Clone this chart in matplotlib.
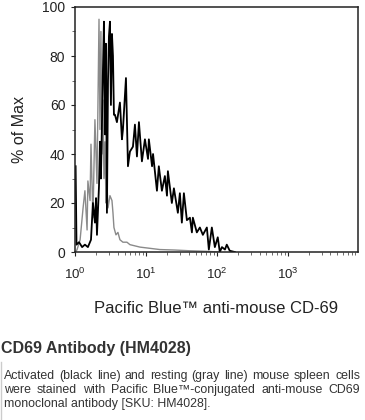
import matplotlib
matplotlib.use("Agg")

import numpy as np
import matplotlib.pyplot as plt
from matplotlib.ticker import LogLocator, MultipleLocator

plt.rcParams["font.family"] = ["Liberation Sans", "DejaVu Sans"]
plt.rcParams["mathtext.fontset"] = "custom"
plt.rcParams["mathtext.rm"] = "Liberation Sans"
plt.rcParams["mathtext.it"] = "Liberation Sans:italic"

# activated cells (black line): fluorescence intensity, % of max
activated_x = [1.02, 1.05, 1.14, 1.26, 1.38, 1.52, 1.68, 1.79, 1.91, 1.98, 2.04, 2.18, 2.25,
               2.32, 2.48, 2.56, 2.65, 2.73, 2.82, 2.92, 3.01, 3.11, 3.21, 3.32, 3.43, 3.54,
               3.66, 3.90, 4.30, 4.59, 4.74, 5.23, 5.58, 5.95, 6.56, 7.00, 7.47, 7.97, 8.78,
               9.68, 10.7, 11.0, 12.2, 12.6, 14.3, 15.2, 16.8, 18.5, 19.8, 20.4, 23.2, 24.8,
               28.2, 30.1, 32.1, 34.3, 37.8, 41.7, 44.5, 45.9, 52.2, 57.6, 63.5, 72.3, 77.1,
               85.0, 93.7, 103, 110, 118, 130, 138, 152, 179]
activated_y = [35, 3, 4, 2, 3, 2, 5, 20, 12, 22, 7, 27, 45,
               30, 75, 94, 48, 85, 16, 70, 88, 94, 60, 89, 80, 56,
               56, 53, 61, 46, 50, 71, 35, 41, 43, 52, 39, 53, 37,
               46, 38, 46, 35, 40, 25, 35, 25, 31, 23, 33, 20, 26,
               16, 24, 12, 24, 13, 14, 8, 14, 8, 10, 7, 10, 1,
               10, 2, 6, 0, 2, 1, 3, 0.5, 0]

# resting cells (gray line)
resting_x = [1.02, 1.07, 1.18, 1.30, 1.38, 1.48, 1.52, 1.63, 1.68, 1.79, 1.91, 2.04, 2.18,
             2.25, 2.32, 2.40, 2.48, 2.56, 2.65, 2.73, 2.82, 2.92, 3.11, 3.32, 3.43, 3.54,
             3.78, 4.03, 4.30, 4.74, 5.40, 5.95, 7.00, 8.23, 11.4, 15.7, 25.6, 41.7, 67.7, 110]
resting_y = [0, 1, 5, 18, 25, 9, 29, 21, 44, 14, 54, 28, 95,
             50, 90, 40, 62, 30, 45, 20, 28, 18, 23, 21, 16, 10,
             7, 8, 5, 4, 4, 3, 2.5, 2, 1.5, 1, 0.8, 0.5, 0.3, 0]

title = "CD69 Antibody (HM4028)"
caption = [
    "Activated (black line) and resting (gray line) mouse spleen cells",
    "were stained with Pacific Blue\u2122-conjugated anti-mouse CD69",
    "monoclonal antibody [SKU: HM4028].",
]

W, H = 365, 420
fig = plt.figure(figsize=(W / 100, H / 100), dpi=100)
fig.patch.set_facecolor("white")

ax = fig.add_axes([75 / W, 1 - 252 / H, 283 / W, 245 / H])
ax.plot(resting_x, resting_y, color="#8a8a8a", lw=1.0)
ax.plot(activated_x, activated_y, color="black", lw=1.3)

ax.set_xscale("log")
ax.set_xlim(1, 10 ** 3.99)
ax.set_ylim(0, 100)
ax.set_xticks([1, 10, 100, 1000])
ax.xaxis.set_minor_locator(LogLocator(base=10, subs=np.arange(2, 10)))
ax.yaxis.set_major_locator(MultipleLocator(20))
ax.yaxis.set_minor_locator(MultipleLocator(10))
ax.tick_params(axis="both", which="major", direction="out", length=3, width=0.8,
               labelsize=10, colors="#222222", pad=4)
ax.tick_params(axis="x", which="major", labelsize=9.5, pad=8)
ax.tick_params(axis="both", which="minor", direction="out", length=2, width=0.6,
               colors="#555555")
for s in ax.spines.values():
    s.set_linewidth(1.1)
    s.set_color("#222222")

ax.set_ylabel("% of Max", fontsize=11.5, color="#222222", labelpad=11)
ax.set_xlabel("Pacific Blue\u2122 anti-mouse CD-69", fontsize=12, color="#222222",
              labelpad=13)

# ================= TITLE + CAPTION =================
fig.text(1 / W, 1 - 348 / H, title, fontsize=11.5, fontweight="bold",
         color="#333333", va="center", ha="left")

fig.add_artist(plt.Line2D([1.5 / W, 1.5 / W], [0, 1 - 362 / H], color="#cccccc", lw=1))

renderer = fig.canvas.get_renderer()
x0, x1 = 4, 360
line_y = [376, 390, 404]
for i, (line, yy) in enumerate(zip(caption, line_y)):
    if i == len(caption) - 1:
        fig.text(x0 / W, 1 - yy / H, line, fontsize=8.9, color="#333333", va="center")
        continue
    words = line.split(" ")
    texts = [fig.text(0, 1 - yy / H, w, fontsize=8.9, color="#333333", va="center")
             for w in words]
    widths = [t.get_window_extent(renderer).width for t in texts]
    gap = (x1 - x0 - sum(widths)) / (len(words) - 1)
    x = x0
    for t, w in zip(texts, widths):
        t.set_x(x / W)
        x += w + gap

fig.savefig("out.png", dpi=100, facecolor="white")
plt.close()
